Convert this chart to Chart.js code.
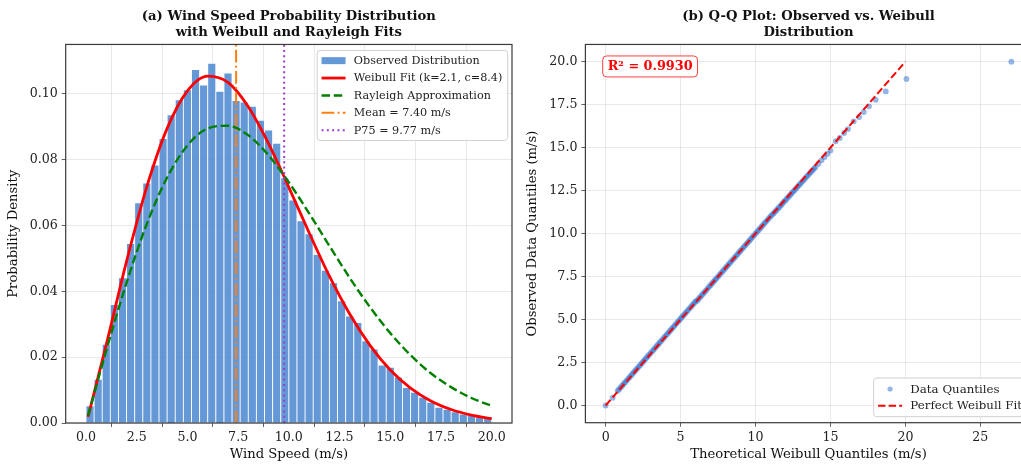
<!DOCTYPE html>
<html>
<head>
<meta charset="utf-8">
<script src="https://cdn.jsdelivr.net/npm/chart.js@4.4.1/dist/chart.umd.min.js"></script>
<style>
  html, body { margin: 0; padding: 0; background: #fff; overflow: hidden; width: 1021px; height: 464px; }
  .panel { position: absolute; top: 0; height: 464px; }
  #panel-a { left: 0; width: 520px; }
  #panel-b { left: 520px; width: 540px; }
</style>
</head>
<body>
<div class="panel" id="panel-a"><canvas id="chart-dist" width="520" height="464"></canvas></div>
<div class="panel" id="panel-b"><canvas id="chart-qq" width="540" height="464"></canvas></div>
<script>
// histogram (bin centres, m/s) and observed density
const speedBins = [0.2, 0.6, 1.0, 1.4, 1.8, 2.2, 2.6, 3.0, 3.4, 3.8, 4.2, 4.6, 5.0, 5.4, 5.8, 6.2, 6.6, 7.0, 7.4, 7.8,
  8.2, 8.6, 9.0, 9.4, 9.8, 10.2, 10.6, 11.0, 11.4, 11.8, 12.2, 12.6, 13.0, 13.4, 13.8, 14.2, 14.6, 15.0, 15.4, 15.8,
  16.2, 16.6, 17.0, 17.4, 17.8, 18.2, 18.6, 19.0, 19.4, 19.8];
const observedDensity = [0.0052, 0.0133, 0.0239, 0.0360, 0.0441, 0.0545, 0.0669, 0.0729, 0.0784, 0.0864,
  0.0936, 0.0982, 0.1012, 0.1074, 0.1027, 0.1093, 0.1008, 0.1063, 0.0980, 0.0975,
  0.0962, 0.0920, 0.0890, 0.0850, 0.0745, 0.0677, 0.0614, 0.0575, 0.0512, 0.0464,
  0.0426, 0.0371, 0.0325, 0.0305, 0.0250, 0.0225, 0.0176, 0.0169, 0.0140, 0.0108,
  0.0093, 0.0078, 0.0063, 0.0048, 0.0042, 0.0034, 0.0027, 0.0024, 0.0019, 0.0017];

// fitted curves
const fitSpeeds = [0.1, 1, 2, 3, 4, 5, 6, 7, 8, 9, 10, 11, 12, 13, 14, 15, 16, 17, 18, 19, 20];
const weibullDensity = [0.0019, 0.0238, 0.0491, 0.0718, 0.0895, 0.1009, 0.1054, 0.1035, 0.0961, 0.0849, 0.0716,
  0.0578, 0.0446, 0.0331, 0.0236, 0.0161, 0.0106, 0.0067, 0.0041, 0.0024, 0.0013];
const rayleighDensity = [0.0022, 0.0220, 0.0426, 0.0605, 0.0746, 0.0843, 0.0895, 0.0903, 0.0874, 0.0813, 0.0731,
  0.0637, 0.0538, 0.0441, 0.0352, 0.0273, 0.0206, 0.0151, 0.0109, 0.0076, 0.0052];

const meanSpeed = 7.40;
const p75Speed = 9.77;
const densityTop = 0.115;

// Q-Q plot: theoretical vs observed quantiles (m/s)
const theoreticalQ = [0, 0.47,
  0.8, 0.9, 1.0, 1.1, 1.2, 1.3, 1.4, 1.5, 1.6, 1.7, 1.8, 1.9, 2.0, 2.1, 2.2, 2.3, 2.4, 2.5, 2.6, 2.7, 2.8, 2.9,
  3.0, 3.1, 3.2, 3.3, 3.4, 3.5, 3.6, 3.7, 3.8, 3.9, 4.0, 4.1, 4.2, 4.3, 4.4, 4.5, 4.6, 4.7, 4.8, 4.9,
  5.0, 5.1, 5.2, 5.3, 5.4, 5.5, 5.6, 5.7, 5.8, 5.9, 6.0, 6.1, 6.2, 6.3, 6.4, 6.5, 6.6, 6.7, 6.8, 6.9,
  7.0, 7.1, 7.2, 7.3, 7.4, 7.5, 7.6, 7.7, 7.8, 7.9, 8.0, 8.1, 8.2, 8.3, 8.4, 8.5, 8.6, 8.7, 8.8, 8.9,
  9.0, 9.1, 9.2, 9.3, 9.4, 9.5, 9.6, 9.7, 9.8, 9.9, 10.0, 10.1, 10.2, 10.3, 10.4, 10.5, 10.6, 10.7, 10.8, 10.9,
  11.0, 11.1, 11.2, 11.3, 11.4, 11.5, 11.6, 11.7, 11.8, 11.9, 12.0, 12.1, 12.2, 12.3, 12.4, 12.5, 12.6, 12.7,
  12.8, 12.9, 13.0, 13.1, 13.2, 13.3, 13.4, 13.5, 13.6, 13.7, 13.8, 13.9, 14.0,
  14.2, 14.4, 14.6, 14.8, 15.0,
  15.35, 15.62, 15.91, 16.17, 16.55, 16.91, 17.22, 17.57, 18.02, 18.69, 20.07, 27.07];
const observedQ = [0, 0.45,
  0.85, 0.95, 1.05, 1.15, 1.25, 1.35, 1.45, 1.55, 1.65, 1.75, 1.85, 1.95, 2.05, 2.15, 2.25, 2.35, 2.45, 2.55,
  2.65, 2.75, 2.85, 2.95, 3.05, 3.15, 3.25, 3.35, 3.45, 3.55, 3.65, 3.75, 3.85, 3.95, 4.05, 4.15, 4.25, 4.35,
  4.45, 4.55, 4.65, 4.75, 4.85, 4.95, 5.05, 5.15, 5.25, 5.35, 5.45, 5.55, 5.65, 5.75, 5.85, 5.95, 6.05,
  6.1, 6.2, 6.3, 6.4, 6.5, 6.6, 6.7, 6.8, 6.9,
  7.0, 7.1, 7.2, 7.3, 7.4, 7.5, 7.6, 7.7, 7.8, 7.9, 8.0, 8.1, 8.2, 8.3, 8.4, 8.5, 8.6, 8.7, 8.8, 8.9,
  9.0, 9.1, 9.2, 9.3, 9.4, 9.5, 9.6, 9.7, 9.8, 9.9, 10.0, 10.1, 10.2, 10.3, 10.4, 10.5, 10.6, 10.7, 10.8, 10.9,
  11.0, 11.09, 11.17, 11.27, 11.36, 11.46, 11.55, 11.65, 11.75, 11.85, 11.94, 12.04, 12.14, 12.23, 12.33,
  12.43, 12.52, 12.62, 12.72, 12.81, 12.91, 13.01, 13.1, 13.2, 13.3, 13.39, 13.49, 13.58, 13.68, 13.77, 13.87,
  14.06, 14.26, 14.45, 14.64, 14.83,
  15.37, 15.56, 15.85, 16.08, 16.53, 16.78, 17.07, 17.40, 17.78, 18.27, 18.99, 20.0];
const perfectFitRange = [0, 20];
const rSquared = 0.9930;

const C = {
  bar: "rgba(74, 134, 208, 0.85)",
  barEdge: "rgba(255, 255, 255, 0.75)",
  weibull: "#ff0000",
  rayleigh: "#008000",
  mean: "#ff7f0e",
  p75: "#9b3fc8",
  dot: "rgba(40, 110, 205, 0.5)",
  fit: "#ff0000",
  grid: "rgba(176, 176, 176, 0.35)",
  frame: "#3a3a3a",
  text: "#222",
};
const SERIF = "'DejaVu Serif', serif";

// matplotlib-style box round the plot area
const framePlugin = {
  id: "frame",
  afterDatasetsDraw(chart) {
    const { ctx, chartArea: a } = chart;
    ctx.save();
    ctx.strokeStyle = C.frame;
    ctx.lineWidth = 1.2;
    ctx.strokeRect(a.left, a.top, a.right - a.left, a.bottom - a.top);
    ctx.restore();
  },
};

// legend drawn inside the plot area
const boxLegend = {
  id: "boxLegend",
  afterDraw(chart, args, o) {
    const { ctx, chartArea: a } = chart;
    const sets = chart.data.datasets;
    ctx.save();
    ctx.font = `${o.fontSize}px ${SERIF}`;
    const handle = 24, padL = 4.4, gap = 8.3, padR = 5.4;
    const textW = Math.max(...sets.map(d => ctx.measureText(d.label).width));
    const w = padL + handle + gap + textW + padR;
    const h = o.edge * 2 + o.rowHeight * (sets.length - 1);
    const x = a.right - 4.3 - w;
    const y = o.corner === "bottom" ? a.bottom - 6 - h : a.top + 6;

    ctx.fillStyle = "rgba(255,255,255,0.85)";
    ctx.strokeStyle = "#d0d0d0";
    ctx.lineWidth = 1;
    ctx.beginPath();
    ctx.roundRect(x, y, w, h, 3);
    ctx.fill();
    ctx.stroke();

    sets.forEach((d, i) => {
      const cy = y + o.edge + i * o.rowHeight;
      const hx = x + padL;
      if (d.legendKind === "patch") {
        ctx.fillStyle = d.backgroundColor;
        ctx.fillRect(hx, cy - 3.5, handle, 7);
      } else if (d.legendKind === "dot") {
        ctx.fillStyle = d.backgroundColor;
        ctx.beginPath();
        ctx.arc(hx + handle / 2, cy, 2.6, 0, Math.PI * 2);
        ctx.fill();
      } else {
        ctx.strokeStyle = d.borderColor;
        ctx.lineWidth = d.borderWidth;
        ctx.setLineDash(d.borderDash || []);
        ctx.beginPath();
        ctx.moveTo(hx, cy);
        ctx.lineTo(hx + handle, cy);
        ctx.stroke();
        ctx.setLineDash([]);
      }
      ctx.fillStyle = C.text;
      ctx.textBaseline = "middle";
      ctx.fillText(d.label, hx + handle + gap, cy + 0.5);
    });
    ctx.restore();
  },
};

// annotation box with R^2
const statBox = {
  id: "statBox",
  afterDraw(chart, args, o) {
    if (!o.text) return;
    const { ctx, chartArea: a } = chart;
    ctx.save();
    ctx.font = `bold ${o.fontSize}px ${SERIF}`;
    const tw = ctx.measureText(o.text).width;
    const x = a.left + 17.3, y = a.top + 11.5, w = tw + 10, h = 21;
    ctx.fillStyle = "#fff";
    ctx.strokeStyle = "rgba(255, 0, 0, 0.75)";
    ctx.lineWidth = 1;
    ctx.beginPath();
    ctx.roundRect(x, y, w, h, 4);
    ctx.fill();
    ctx.stroke();
    ctx.fillStyle = "#ff0000";
    ctx.textBaseline = "middle";
    ctx.fillText(o.text, x + 5, y + h / 2 + 0.5);
    ctx.restore();
  },
};

function axis(opts) {
  return {
    type: "linear",
    min: opts.min,
    max: opts.max,
    offset: false,
    grid: { color: C.grid, lineWidth: 0.8, tickColor: C.frame, tickLength: 4, drawTicks: true },
    border: { display: false },
    ticks: {
      stepSize: opts.step,
      includeBounds: false,
      autoSkip: false,
      maxRotation: 0,
      color: C.text,
      padding: opts.pad,
      font: { family: SERIF, size: 12.6 },
      callback: v => v.toFixed(opts.digits),
    },
    title: {
      display: true,
      text: opts.title,
      color: "#111",
      font: { family: SERIF, size: 13.2, lineHeight: 1.15 },
      padding: opts.titlePad,
    },
    afterFit: opts.fit,
  };
}

function chartTitle(lines) {
  return {
    display: true,
    text: lines,
    fullSize: false,
    color: "#111",
    font: { family: SERIF, size: 13.2, weight: "bold", lineHeight: 1.18 },
    padding: { top: 8.9, bottom: 4.4 },
  };
}

function initDistributionChart() {
  const el = document.getElementById("chart-dist");
  return new Chart(el, {
    type: "bar",
    data: {
      datasets: [
        {
          type: "bar",
          label: "Observed Distribution",
          legendKind: "patch",
          data: speedBins.map((x, i) => ({ x, y: observedDensity[i] })),
          backgroundColor: C.bar,
          borderColor: C.barEdge,
          borderWidth: 0.8,
          barPercentage: 1,
          categoryPercentage: 1,
          order: 5,
        },
        {
          type: "line",
          label: "Weibull Fit (k=2.1, c=8.4)",
          data: fitSpeeds.map((x, i) => ({ x, y: weibullDensity[i] })),
          borderColor: C.weibull,
          borderWidth: 2.8,
          pointRadius: 0,
          cubicInterpolationMode: "monotone",
          order: 4,
        },
        {
          type: "line",
          label: "Rayleigh Approximation",
          data: fitSpeeds.map((x, i) => ({ x, y: rayleighDensity[i] })),
          borderColor: C.rayleigh,
          borderWidth: 2.4,
          borderDash: [8.5, 3.7],
          pointRadius: 0,
          cubicInterpolationMode: "monotone",
          order: 3,
        },
        {
          type: "line",
          label: `Mean = ${meanSpeed.toFixed(2)} m/s`,
          data: [{ x: meanSpeed, y: 0 }, { x: meanSpeed, y: densityTop }],
          borderColor: C.mean,
          borderWidth: 2,
          borderDash: [12.8, 3.2, 2, 3.2],
          pointRadius: 0,
          order: 2,
        },
        {
          type: "line",
          label: `P75 = ${p75Speed.toFixed(2)} m/s`,
          data: [{ x: p75Speed, y: 0 }, { x: p75Speed, y: densityTop }],
          borderColor: C.p75,
          borderWidth: 2,
          borderDash: [2, 3.3],
          pointRadius: 0,
          order: 1,
        },
      ],
    },
    options: {
      responsive: false,
      animation: false,
      layout: { padding: { left: 0, right: 8, top: 0, bottom: 0 } },
      plugins: {
        legend: { display: false },
        tooltip: { enabled: false },
        title: chartTitle(["(a) Wind Speed Probability Distribution", "with Weibull and Rayleigh Fits"]),
        boxLegend: { fontSize: 11.2, rowHeight: 17.4, edge: 10.2, corner: "top" },
        statBox: { text: null },
      },
      scales: {
        x: axis({ min: -1, max: 21, step: 2.5, digits: 1, pad: 3, title: "Wind Speed (m/s)",
          titlePad: { top: 0, bottom: 1.5 }, fit: s => { s.height = 41; } }),
        y: axis({ min: 0, max: densityTop, step: 0.02, digits: 2, pad: 4, title: "Probability Density",
          titlePad: { top: 6.4, bottom: 0 }, fit: s => { s.width = 65.7; } }),
      },
    },
    plugins: [framePlugin, boxLegend, statBox],
  });
}

function initQQChart() {
  const el = document.getElementById("chart-qq");
  return new Chart(el, {
    type: "scatter",
    data: {
      datasets: [
        {
          type: "scatter",
          label: "Data Quantiles",
          legendKind: "dot",
          data: theoreticalQ.map((x, i) => ({ x, y: observedQ[i] })),
          backgroundColor: C.dot,
          borderWidth: 0,
          pointRadius: 2.9,
          order: 2,
        },
        {
          type: "line",
          label: "Perfect Weibull Fit",
          data: perfectFitRange.map(v => ({ x: v, y: v })),
          borderColor: C.fit,
          borderWidth: 2,
          borderDash: [7.4, 3.2],
          pointRadius: 0,
          order: 1,
        },
      ],
    },
    options: {
      responsive: false,
      animation: false,
      layout: { padding: { left: 0, right: 28.4, top: 0, bottom: 0 } },
      plugins: {
        legend: { display: false },
        tooltip: { enabled: false },
        title: chartTitle(["(b) Q-Q Plot: Observed vs. Weibull", "Distribution"]),
        boxLegend: { fontSize: 11.8, rowHeight: 16.7, edge: 11, corner: "bottom" },
        statBox: { text: `R\u00b2 = ${rSquared.toFixed(4)}`, fontSize: 12.8 },
      },
      scales: {
        x: axis({ min: -1.35, max: 28.42, step: 5, digits: 0, pad: 3, title: "Theoretical Weibull Quantiles (m/s)",
          titlePad: { top: 0, bottom: 1.5 }, fit: s => { s.height = 41.3; } }),
        y: axis({ min: -1, max: 21, step: 2.5, digits: 1, pad: 4, title: "Observed Data Quantiles (m/s)",
          titlePad: { top: 5.4, bottom: 0 }, fit: s => { s.width = 65.4; } }),
      },
    },
    plugins: [framePlugin, boxLegend, statBox],
  });
}

document.addEventListener("DOMContentLoaded", () => {
  initDistributionChart();
  initQQChart();
});
</script>
</body>
</html>
